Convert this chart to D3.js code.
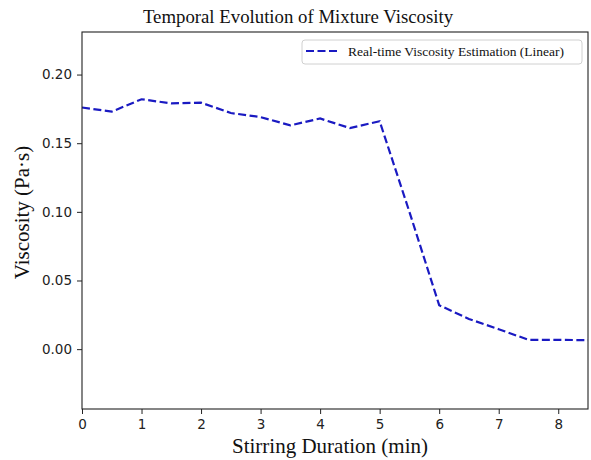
<!DOCTYPE html>
<html>
<head>
<meta charset="utf-8">
<script src="https://cdn.jsdelivr.net/npm/d3@7"></script>
<style>
  html, body { margin: 0; padding: 0; background: #fff; }
  svg { display: block; }
</style>
</head>
<body>
<svg id="chart" width="591" height="460"></svg>
<script>
// ---- data ----
const timeMin = [0, 0.5, 1, 1.5, 2, 2.5, 3, 3.5, 4, 4.5, 5, 5.5, 6, 6.5, 7, 7.5, 8, 8.5];
const viscosity = [0.176, 0.173, 0.182, 0.179, 0.1795, 0.172, 0.169, 0.163, 0.168, 0.161, 0.166, 0.100, 0.032, 0.022, 0.0145, 0.0068, 0.0068, 0.0065];
const xTicks = [0, 1, 2, 3, 4, 5, 6, 7, 8];
const yTicks = [0.00, 0.05, 0.10, 0.15, 0.20];
const titleText = "Temporal Evolution of Mixture Viscosity";
const xLabelText = "Stirring Duration (min)";
const yLabelText = "Viscosity (Pa\u00b7s)";
const legendText = "Real-time Viscosity Estimation (Linear)";

// ---- layout ----
const svg = d3.select("#chart");
const L = 82, R = 588, T = 32, B = 409;
const x = d3.scaleLinear().domain([0, 8.5]).range([L, R]);
const y = d3.scaleLinear().domain([-0.0436, 0.231]).range([B, T]);

const serif = "'Liberation Serif', 'Times New Roman', serif";
const sans = "'DejaVu Sans', sans-serif";
const lineColor = "#1a1ac2";

// axes
const xAxis = d3.axisBottom(x).tickValues(xTicks).tickFormat(d3.format("d")).tickSize(5).tickPadding(5);
const yAxis = d3.axisLeft(y).tickValues(yTicks).tickFormat(d3.format(".2f")).tickSize(5).tickPadding(5);

const gx = svg.append("g").attr("transform", `translate(0,${B})`).call(xAxis);
const gy = svg.append("g").attr("transform", `translate(${L},0)`).call(yAxis);
[gx, gy].forEach(g => {
  g.select(".domain").remove();
  g.selectAll("text").attr("font-family", sans).attr("font-size", 13.5).attr("fill", "#222");
  g.selectAll("line").attr("stroke", "#222");
});

// data line
const line = d3.line().x((d, i) => x(timeMin[i])).y(d => y(d));
svg.append("path")
  .datum(viscosity)
  .attr("fill", "none")
  .attr("stroke", lineColor)
  .attr("stroke-width", 2.2)
  .attr("stroke-dasharray", "8,3.5")
  .attr("d", line);

// frame
svg.append("rect")
  .attr("x", L).attr("y", T).attr("width", R - L).attr("height", B - T)
  .attr("fill", "none").attr("stroke", "#222").attr("stroke-width", 1.1);

// title
svg.append("text")
  .attr("x", 298).attr("y", 23)
  .attr("text-anchor", "middle")
  .attr("font-family", serif).attr("font-size", 18.8).attr("fill", "#111")
  .text(titleText);

// x label
svg.append("text")
  .attr("x", 330).attr("y", 453)
  .attr("text-anchor", "middle")
  .attr("font-family", serif).attr("font-size", 21).attr("fill", "#111")
  .text(xLabelText);

// y label
svg.append("text")
  .attr("transform", `translate(29,${(T + B) / 2 - 8}) rotate(-90)`)
  .attr("text-anchor", "middle")
  .attr("font-family", serif).attr("font-size", 21).attr("fill", "#111")
  .text(yLabelText);

// legend
const lg = svg.append("g");
lg.append("rect")
  .attr("x", 302).attr("y", 40).attr("width", 280).attr("height", 24)
  .attr("rx", 3).attr("fill", "#fff").attr("stroke", "#d0d0d0").attr("stroke-width", 1);
lg.append("line")
  .attr("x1", 306).attr("x2", 340).attr("y1", 51).attr("y2", 51)
  .attr("stroke", lineColor).attr("stroke-width", 2.2).attr("stroke-dasharray", "8,3.5");
lg.append("text")
  .attr("x", 348).attr("y", 56)
  .attr("font-family", serif).attr("font-size", 13.5).attr("fill", "#111")
  .text(legendText);
</script>
</body>
</html>
